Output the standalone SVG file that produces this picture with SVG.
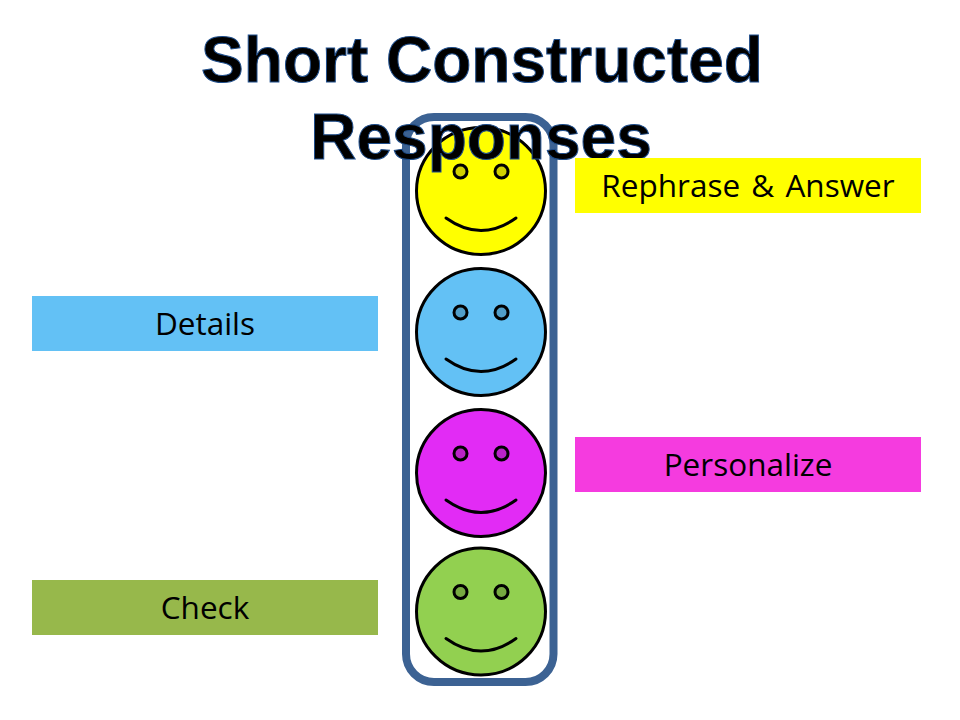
<svg xmlns="http://www.w3.org/2000/svg" width="960" height="720" viewBox="0 0 960 720">
<style>
.t{font-family:"Liberation Sans",Arial,sans-serif;font-weight:bold;font-size:64px;fill:#000;stroke:#1f4e8c;stroke-width:1;text-anchor:middle}
.l{font-family:"Open Sans","Noto Sans",sans-serif;font-size:31.500px;fill:#000;text-anchor:middle}
.f{stroke:#000;stroke-width:3}
.e{fill:#000;fill-opacity:.18;stroke:#000;stroke-width:3}
.s{fill:none;stroke:#000;stroke-width:3;stroke-linecap:round}
</style>
<defs>
<g id="face">
<ellipse class="f" cx="0" cy="0" rx="64.500" ry="63.500" fill="inherit"/>
<circle class="e" cx="-20.500" cy="-19.500" r="6.500"/>
<circle class="e" cx="20.500" cy="-19.500" r="6.500"/>
<path class="s" d="M-35 27Q0 52 35 27"/>
</g>
</defs>
<rect width="960" height="720" fill="#fff"/>
<g id="frame"><rect x="406" y="117" width="147.500" height="565" rx="28" fill="none" stroke="#3c6293" stroke-width="8"/></g>
<g id="face-yellow" fill="#ffff00"><use href="#face" x="481" y="191"/></g>
<g id="face-blue" fill="#63c1f5"><use href="#face" x="481" y="332"/></g>
<g id="face-magenta" fill="#e22bf5"><use href="#face" x="481" y="473"/></g>
<g id="face-green" fill="#92d050"><use href="#face" x="481" y="611.500"/></g>
<g id="title"><text class="t" x="482" y="82">Short Constructed</text><text class="t" x="481" y="159">Responses</text></g>
<g id="rephrase"><rect x="575" y="158" width="346" height="55" fill="#ffff00"/><text class="l" x="748" y="197" word-spacing="3">Rephrase &amp; Answer</text></g>
<g id="details"><rect x="32" y="296" width="346" height="55" fill="#63c1f5"/><text class="l" x="205" y="335">Details</text></g>
<g id="personalize"><rect x="575" y="437" width="346" height="55" fill="#f53bdf"/><text class="l" x="748" y="476">Personalize</text></g>
<g id="check"><rect x="32" y="580" width="346" height="55" fill="#97b84b"/><text class="l" x="205" y="619">Check</text></g>
<g id="connectors"/>
</svg>
